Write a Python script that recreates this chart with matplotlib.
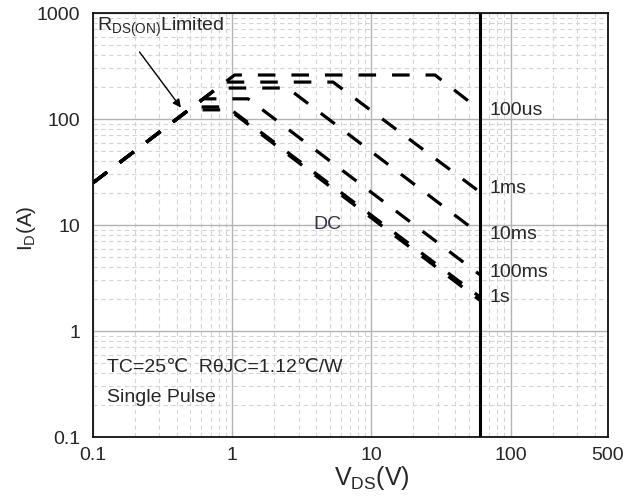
import matplotlib

matplotlib.use("Agg")
import matplotlib.pyplot as plt
from matplotlib.ticker import FixedLocator, NullFormatter

plt.rcParams.update({
    "font.family": ["Liberation Sans", "DejaVu Sans"],
    "mathtext.fontset": "custom",
    "mathtext.rm": "Liberation Sans",
    "mathtext.it": "Liberation Sans",
})

INK = "#262626"

# --- data (V in volts, I in amps) ------------------------------------------
# every curve starts on the RDS(on) limit line, then goes flat, then falls
RDS_V = [0.1]
RDS_I = [25]

V_100US = [1.04, 28.6, 60]
I_100US = [260, 260, 122]

V_1MS = [0.89, 5.3, 60]
I_1MS = [223, 223, 20.5]

V_10MS = [0.78, 2.5, 60]
I_10MS = [196, 196, 8.2]

V_100MS = [0.62, 1.3, 60]
I_100MS = [155, 155, 3.4]

V_1S = [0.52, 0.92, 60]
I_1S = [130, 130, 2.1]

V_DC = [0.49, 0.95, 60]
I_DC = [122, 122, 1.95]

BVDSS = 60

CURVE_LABELS = ["100us", "1ms", "10ms", "100ms", "1s"]
LABEL_I = [119, 22.3, 8.05, 3.6, 2.05]

X_TICKS = [0.1, 1, 10, 100, 500]
X_TICKLABELS = ["0.1", "1", "10", "100", "500"]
Y_TICKS = [0.1, 1, 10, 100, 1000]
Y_TICKLABELS = ["0.1", "1", "10", "100", "1000"]

# --- figure ----------------------------------------------------------------
fig = plt.figure(figsize=(6.4, 4.99), dpi=100)
ax = fig.add_axes([93 / 640, 62 / 499, 515 / 640, 424 / 499])
ax.set_xscale("log")
ax.set_yscale("log")
ax.set_xlim(0.1, 500)
ax.set_ylim(0.1, 1000)

minor_x = [m * 10.0 ** e for e in range(-1, 3) for m in range(2, 10) if m * 10.0 ** e < 500]
minor_y = [m * 10.0 ** e for e in range(-1, 3) for m in range(2, 10)]
ax.xaxis.set_minor_locator(FixedLocator(minor_x))
ax.yaxis.set_minor_locator(FixedLocator(minor_y))
ax.xaxis.set_minor_formatter(NullFormatter())
ax.yaxis.set_minor_formatter(NullFormatter())
ax.grid(which="major", color="#b4b4b4", lw=1.0, ls="-")
ax.grid(which="minor", color="#d4d4d4", lw=0.8, ls=(0, (4, 3)))
ax.set_axisbelow(True)

ax.set_xticks(X_TICKS)
ax.set_xticklabels(X_TICKLABELS, fontsize=14, color=INK)
ax.set_yticks(Y_TICKS)
ax.set_yticklabels(Y_TICKLABELS, fontsize=14, color=INK)
ax.tick_params(axis="x", which="both", length=0, pad=7)
ax.tick_params(axis="y", which="both", length=0, pad=9)

for s in ax.spines.values():
    s.set_color("#111111")
    s.set_linewidth(1.3)

dash = dict(color="black", lw=2.3, ls=(0, (5.5, 5)), dash_capstyle="butt")
for vv, ii in [(V_100US, I_100US), (V_1MS, I_1MS), (V_10MS, I_10MS),
               (V_100MS, I_100MS), (V_1S, I_1S), (V_DC, I_DC)]:
    ax.plot(RDS_V + vv, RDS_I + ii, **dash)

ax.axvline(BVDSS, color="black", lw=2.2)

for lab, yi in zip(CURVE_LABELS, LABEL_I):
    ax.text(70, yi, lab, fontsize=14, color=INK, va="center", ha="left")
ax.text(3.85, 10.2, "DC", fontsize=14, color="#333344", va="center", ha="left")

ax.annotate("", xy=(0.44, 122), xytext=(0.21, 450),
            arrowprops=dict(arrowstyle="-|>", color="black", lw=1.0,
                            mutation_scale=12))
ax.text(0.107, 735, r"R$_{\rm DS(ON)}$Limited", fontsize=14, color=INK,
        va="center", ha="left")

ax.text(0.126, 0.448, "TC=25℃  RθJC=1.12℃/W", fontsize=14, color=INK,
        va="center", ha="left")
ax.text(0.126, 0.238, "Single Pulse", fontsize=14, color=INK,
        va="center", ha="left")

fig.text(372 / 640, 1 - 478 / 499, r"V$_{\rm DS}$(V)", fontsize=18, color=INK,
         ha="center", va="center")
fig.text(27 / 640, 1 - 228 / 499, r"I$_{\rm D}$(A)", fontsize=15, color=INK,
         ha="center", va="center", rotation=90)

fig.savefig("out.png", dpi=100, facecolor="white")
